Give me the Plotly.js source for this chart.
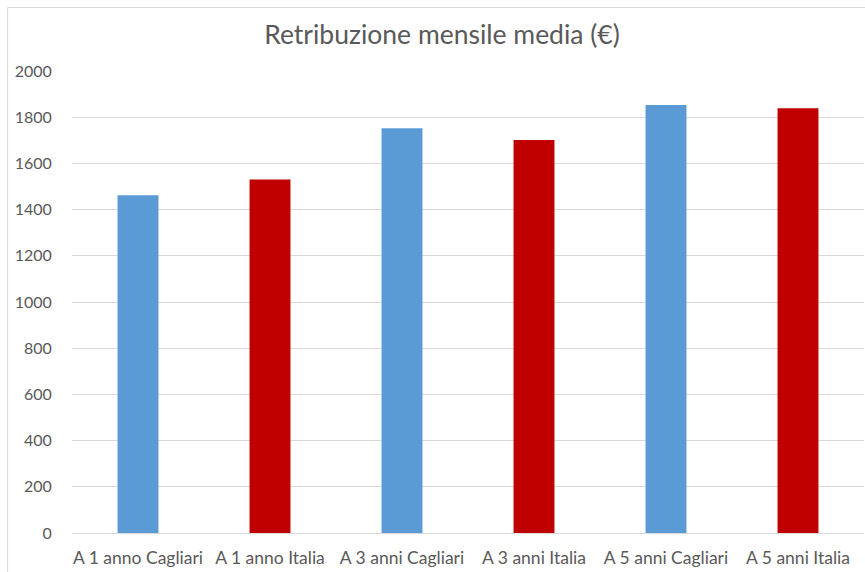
<!DOCTYPE html>
<html>
<head>
<meta charset="utf-8">
<script src="https://cdn.plot.ly/plotly-3.0.1.min.js"></script>
<style>
  html, body { margin: 0; padding: 0; background: #fff; }
  #chart { width: 865px; height: 572px; }
</style>
</head>
<body>
<div id="chart"></div>
<script>
const categories = ["A 1 anno Cagliari", "A 1 anno Italia", "A 3 anni Cagliari", "A 3 anni Italia", "A 5 anni Cagliari", "A 5 anni Italia"];
const values = [1462, 1530, 1752, 1701, 1853, 1839];
const barColors = ["#5B9BD5", "#C00000", "#5B9BD5", "#C00000", "#5B9BD5", "#C00000"];
const yTicks = [0, 200, 400, 600, 800, 1000, 1200, 1400, 1600, 1800, 2000];
const chartTitle = "Retribuzione mensile media (€)";

const trace = {
  type: "bar",
  x: categories,
  y: values,
  marker: { color: barColors, line: { width: 0 } },
  hoverinfo: "none"
};

const W = 865, H = 572;
const L = 71.5, R = 0.5, T = 70.5, B = 39;
const pw = W - L - R, ph = H - T - B;
const bx = (7 - L) / pw;
const byTop = (H - B - 7) / ph;
const byBot = (H - B - H - 5) / ph;

const layout = {
  width: W,
  height: H,
  margin: { l: L, r: R, t: T, b: B, pad: 0 },
  paper_bgcolor: "#ffffff",
  plot_bgcolor: "#ffffff",
  showlegend: false,
  bargap: 0.69,
  font: { family: "Lato, 'Open Sans', sans-serif", color: "#595959", size: 16 },
  title: {
    text: chartTitle,
    font: { family: "Lato, 'Open Sans', sans-serif", size: 26.5, color: "#595959" },
    x: 442 / W,
    xanchor: "center",
    xref: "container",
    y: 1 - 35 / H,
    yanchor: "middle",
    yref: "container"
  },
  xaxis: {
    type: "category",
    showgrid: false,
    showline: false,
    zeroline: false,
    ticks: "outside",
    ticklen: 9,
    tickcolor: "rgba(0,0,0,0)",
    tickfont: { size: 17.5, color: "#595959" },
    fixedrange: true
  },
  yaxis: {
    range: [0, 2000],
    tickvals: yTicks,
    ticktext: yTicks.map(String),
    showgrid: true,
    gridcolor: "#d9d9d9",
    gridwidth: 1,
    zeroline: true,
    zerolinecolor: "#d9d9d9",
    zerolinewidth: 1,
    showline: false,
    ticks: "outside",
    ticklen: 16,
    tickcolor: "rgba(0,0,0,0)",
    tickfont: { size: 16, color: "#595959" },
    fixedrange: true
  },
  shapes: [
    { type: "line", xref: "paper", yref: "paper", x0: bx, x1: bx, y0: byBot, y1: byTop, line: { color: "#d9d9d9", width: 1 }, layer: "below" },
    { type: "line", xref: "paper", yref: "paper", x0: bx, x1: 1.01, y0: byTop, y1: byTop, line: { color: "#d9d9d9", width: 1 }, layer: "below" }
  ],
  hovermode: false
};

Plotly.newPlot("chart", [trace], layout, { displayModeBar: false, staticPlot: true });
</script>
</body>
</html>
